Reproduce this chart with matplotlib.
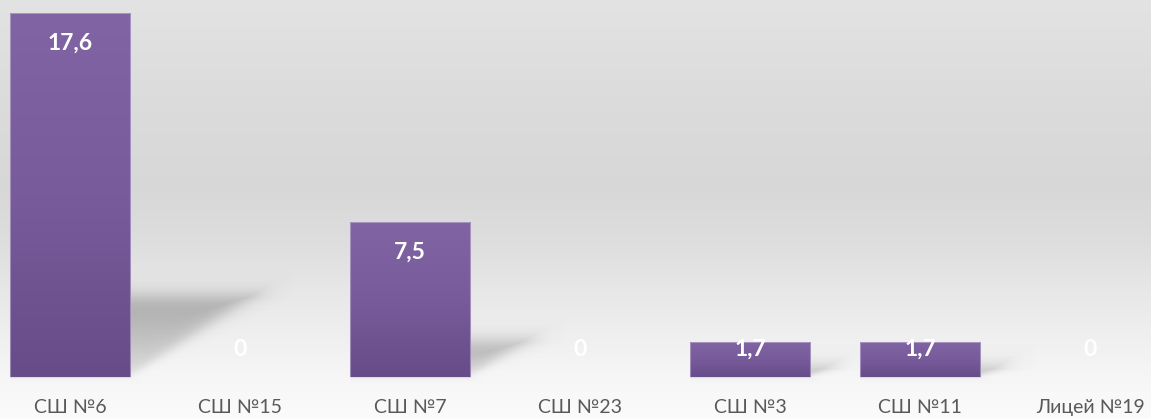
import numpy as np
import matplotlib
matplotlib.use("Agg")
import matplotlib.pyplot as plt
from matplotlib.colors import LinearSegmentedColormap

categories = ["СШ №6", "СШ №15", "СШ №7", "СШ №23", "СШ №3", "СШ №11", "Лицей №19"]
values = [17.6, 0, 7.5, 0, 1.7, 1.7, 0]
value_labels = ["17,6", "0", "7,5", "0", "1,7", "1,7", "0"]

plt.rcParams['font.family'] = ['Lato', 'DejaVu Sans']

W, H, DPI = 1151, 419, 100
fig = plt.figure(figsize=(W / DPI, H / DPI), dpi=DPI)
ax = fig.add_axes([0, 0, 1, 1])
XLIM = (-0.412, 6.359)
YLIM = (-2.03, 18.23)
px_per_x = W / (XLIM[1] - XLIM[0])
px_per_y = H / (YLIM[1] - YLIM[0])

# background gradient (fraction from bottom -> grey level)
bg = np.array([
    [0.0, 0.985], [0.10, 0.965], [0.17, 0.945], [0.28, 0.915],
    [0.42, 0.87], [0.55, 0.845], [0.75, 0.86], [1.0, 0.89]
])
yy = np.linspace(0, 1, 419)
g = np.interp(yy, bg[:, 0], bg[:, 1])
img = np.stack([g, g, g], axis=-1)[:, None, :].repeat(2, axis=1)
ax.imshow(img, extent=[0, 1, 0, 1], transform=ax.transAxes, aspect='auto',
          origin='lower', zorder=0, interpolation='bilinear')

x = np.arange(len(categories))
width = 0.706

# soft perspective shadows behind bars
for xi, v in zip(x, values):
    if v <= 0:
        continue
    sh = v * 0.22
    sh_px = sh * px_per_y
    dx = sh_px * 1.5 / px_per_x
    x0, x1 = xi - width / 2, xi + width / 2
    margin_x = 0.25
    margin_y = 1.2
    ex0, ex1 = x0, x1 + dx + margin_x
    ey0, ey1 = -0.6, sh + margin_y
    nx = int((ex1 - ex0) * px_per_x) + 1
    ny = int((ey1 - ey0) * px_per_y) + 1
    X, Y = np.meshgrid(np.linspace(ex0, ex1, nx), np.linspace(ey0, ey1, ny))
    t = np.clip(Y / sh, 0, 1)
    left = x0 + dx * t
    right = x1 + dx * t
    norm = 1.0 / np.sqrt(1 + 1.5 ** 2)
    sd_h = np.maximum(left - X, X - right) * px_per_x * norm
    sd_v = np.maximum(Y - sh, -Y) * px_per_y
    sd = np.maximum(sd_h, sd_v)
    s = 2.0 + 3.5 * t
    a = 1.0 / (1.0 + np.exp(sd / s))
    inten = 0.10 + 0.30 * t ** 0.7
    rgba = np.zeros((ny, nx, 4))
    rgba[..., :3] = 0.3
    rgba[..., 3] = a * inten
    ax.imshow(rgba, extent=[ex0, ex1, ey0, ey1], origin='lower',
              aspect='auto', zorder=1, interpolation='bilinear')

bars = ax.bar(x, values, width=width, color='none', edgecolor='none', zorder=3)
cmap = LinearSegmentedColormap.from_list('p', ['#664c88', '#785b9b', '#8064a3'])
grad = np.linspace(0, 1, 256)[:, None]
for b, v in zip(bars, values):
    if v <= 0:
        continue
    bx, by = b.get_x(), b.get_y()
    im = ax.imshow(grad, extent=[bx, bx + b.get_width(), by, by + b.get_height()],
                   origin='lower', cmap=cmap, aspect='auto', zorder=3)
    im.set_clip_path(b)
    ax.add_patch(plt.Rectangle((bx, by), b.get_width(), b.get_height(),
                               facecolor='none', edgecolor='#cfc3de', lw=0.8,
                               alpha=0.5, zorder=4))

for xi, v, lab in zip(x, values, value_labels):
    ly = max(v - 1.45, 1.35)
    ax.text(xi, ly, lab, ha='center', va='center', fontsize=16.5,
            fontweight='bold', color='white', zorder=5)

for xi, c in zip(x, categories):
    ax.text(xi, -1.45, c, ha='center', va='center', fontsize=14,
            color='#595959', zorder=5)

ax.set_xlim(*XLIM)
ax.set_ylim(*YLIM)
ax.axis('off')
fig.savefig('out.png', dpi=DPI)
